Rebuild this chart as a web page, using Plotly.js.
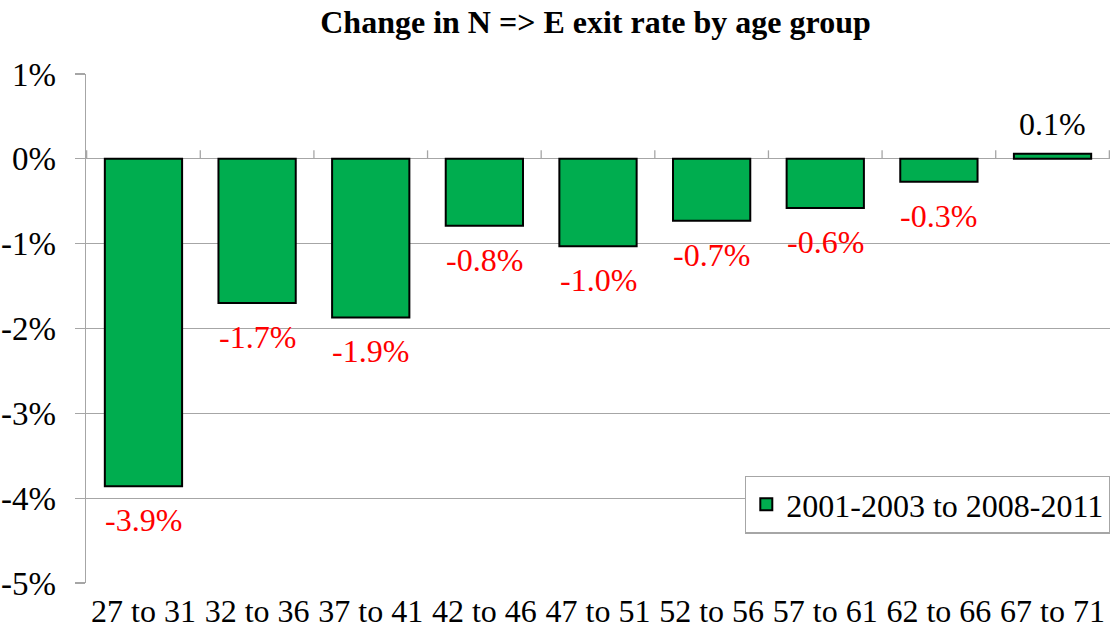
<!DOCTYPE html>
<html><head><meta charset="utf-8">
<script src="https://cdn.plot.ly/plotly-3.0.1.min.js"></script>
<style>html,body{margin:0;padding:0;background:#fff}</style>
</head><body>
<div id="chart" style="width:1111px;height:637px"></div>
<script>
var categories = ["27 to 31","32 to 36","37 to 41","42 to 46","47 to 51","52 to 56","57 to 61","62 to 66","67 to 71"];
var changeValues = [-3.86, -1.70, -1.87, -0.79, -1.03, -0.73, -0.58, -0.27, 0.06];
var seriesName = "2001-2003 to 2008-2011";
var yTickVals = [1, 0, -1, -2, -3, -4, -5];
var yTickText = ["1%", "0%", "-1%", "-2%", "-3%", "-4%", "-5%"];

var SERIF = "Liberation Serif";

var trace = {
  type: "bar",
  x: categories,
  y: changeValues,
  name: seriesName,
  showlegend: true,
  marker: { color: "#00ad4f", line: { color: "#000000", width: 2 } },
  width: 0.68,
  hoverinfo: "none"
};

var annotations = changeValues.map(function(v, i){
  return { xref: "x", yref: "y", x: categories[i], y: v,
    text: v.toFixed(1) + "%", showarrow: false,
    yshift: v < 0 ? -34 : 30, xanchor: "center", yanchor: "middle",
    font: { family: SERIF, size: 32, color: v < 0 ? "#ff0000" : "#000000" } };
});

var shapes = [];
for (var i = 0; i <= categories.length; i++) {
  shapes.push({ type: "line", xref: "x", yref: "y", x0: i - 0.5, x1: i - 0.5, y0: 0, y1: 0.1,
    line: { color: "#a6a6a6", width: 1.3 } });
}

var layout = {
  width: 1111, height: 637,
  margin: { l: 86, r: 1, t: 74, b: 54 },
  paper_bgcolor: "#ffffff", plot_bgcolor: "#ffffff",
  font: { family: SERIF, color: "#000000", size: 32 },
  title: { text: "<b>Change in N => E exit rate by age group</b>", font: { size: 32, family: SERIF, color: "#000000" },
    x: 0.536, xanchor: "center", y: 0.966, yanchor: "middle" },
  xaxis: { type: "category", tickfont: { size: 32, family: SERIF, color: "#000000" }, showgrid: false, zeroline: false,
    showline: false, ticks: "", ticklabelstandoff: 6, fixedrange: true },
  yaxis: { range: [-5, 1], tickvals: yTickVals, ticktext: yTickText, tickfont: { size: 33, family: SERIF, color: "#000000" },
    showgrid: true, gridcolor: "#a6a6a6", gridwidth: 1.3, zeroline: true, zerolinecolor: "#a6a6a6", zerolinewidth: 1.3,
    showline: true, linecolor: "#a6a6a6", linewidth: 1.3, ticks: "outside", ticklen: 10, tickcolor: "#a6a6a6", tickwidth: 1.3,
    ticklabelstandoff: 12, fixedrange: true },
  legend: { x: 1, y: 0.154, xanchor: "right", yanchor: "middle", bordercolor: "#a6a6a6", borderwidth: 1.3,
    bgcolor: "#ffffff", font: { size: 32, family: SERIF, color: "#000000" }, itemwidth: 30 },
  shapes: shapes,
  annotations: annotations,
  showlegend: true
};

Plotly.newPlot("chart", [trace], layout, { displayModeBar: false, staticPlot: true });
</script>
</body></html>
